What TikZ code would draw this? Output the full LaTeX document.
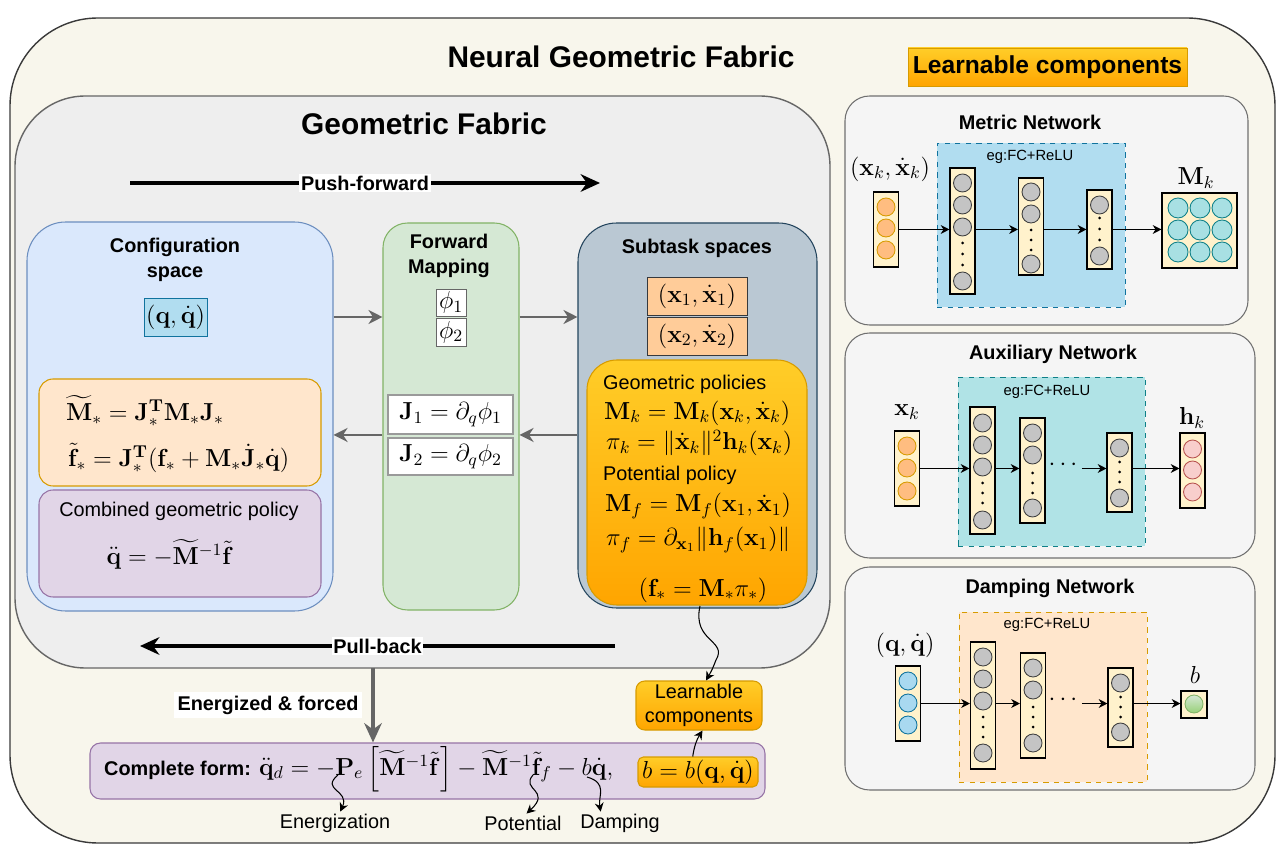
\RequirePackage{fix-cm}
\documentclass[tikz,border=0pt]{standalone}
\usepackage[no-math]{fontspec}
\setmainfont{Liberation Sans}
\usepackage{amsmath}
\usetikzlibrary{arrows.meta}

\definecolor{cream}{HTML}{F8F6EC}
\definecolor{outline}{HTML}{3A3A3A}
\definecolor{gfbg}{HTML}{EEEEEE}
\definecolor{gfline}{HTML}{666666}
\definecolor{panelbg}{HTML}{F5F5F5}
\definecolor{panelline}{HTML}{707070}
\definecolor{cfgfill}{HTML}{DAE8FC}
\definecolor{cfgline}{HTML}{6C8EBF}
\definecolor{qqfill}{HTML}{B1DDF0}
\definecolor{qqline}{HTML}{10739E}
\definecolor{pale}{HTML}{FFE6CC}
\definecolor{paleline}{HTML}{D79B00}
\definecolor{purp}{HTML}{E1D5E7}
\definecolor{purpline}{HTML}{9673A6}
\definecolor{greenfill}{HTML}{D5E8D4}
\definecolor{greenline}{HTML}{82B366}
\definecolor{subfill}{HTML}{BAC8D3}
\definecolor{subline}{HTML}{23445D}
\definecolor{peach}{HTML}{FFCC99}
\definecolor{peachline}{HTML}{36393D}
\definecolor{gold1}{HTML}{FFCD28}
\definecolor{gold2}{HTML}{FFA500}
\definecolor{goldline}{HTML}{D79B00}
\definecolor{jline}{HTML}{9A9A9A}
\definecolor{arrowgrey}{HTML}{666666}
\definecolor{tealfill}{HTML}{B0E3E6}
\definecolor{tealline}{HTML}{0E8088}
\definecolor{layerfill}{HTML}{FFF2CC}
\definecolor{nodegrey}{HTML}{C4C4C4}
\definecolor{nodeorange}{HTML}{FFBD80}
\definecolor{nodeteal}{HTML}{A8E0E3}
\definecolor{nodepink}{HTML}{F8CECC}
\definecolor{nodepinkline}{HTML}{B85450}
\definecolor{nodeblue}{HTML}{A9D9F0}
\definecolor{nodegreen}{HTML}{97D077}

\tikzset{
  boxwh/.style 2 args={minimum width=#1*0.02cm, minimum height=#2*0.02cm, inner sep=0pt},
  title/.style={font=\fontsize{17}{20}\selectfont\bfseries},
  lbl/.style={font=\fontsize{11.3}{14.2}\selectfont\bfseries},
  txt/.style={font=\fontsize{11.3}{13.7}\selectfont, inner sep=1pt},
  eq/.style={font=\fontsize{14}{17}\selectfont, inner sep=1pt},
  egfc/.style={font=\fontsize{8.4}{10}\selectfont},
  garrow/.style={draw=arrowgrey, line width=1.2pt, -{Stealth[length=8pt,width=8pt]}},
  darrow/.style={draw=arrowgrey, line width=1.8pt, -{Stealth[length=11pt,width=10pt]}},
  flow/.style={line width=2.2pt, -{Stealth[length=11pt,width=10pt]}},
  curly/.style={line width=0.6pt, -{Stealth[length=5pt,width=5pt]}},
  netarrow/.style={line width=0.7pt, -{Stealth[length=5pt,width=5pt]}},
  net/.style={draw=panelline, fill=panelbg, rounded corners=14pt, line width=0.6pt},
  layer/.style={draw=black, fill=layerfill, line width=0.6pt, minimum width=0.5cm, minimum height=#1*0.02cm, inner sep=0pt},
  golden/.style={draw=goldline, top color=gold1, bottom color=gold2},
  ngrey/.style={draw=black!75, fill=nodegrey, line width=0.5pt},
  norange/.style={draw=goldline, fill=nodeorange, line width=0.5pt},
  nteal/.style={draw=tealline, fill=nodeteal, line width=0.5pt},
  npink/.style={draw=nodepinkline, fill=nodepink, line width=0.5pt},
  nblue/.style={draw=qqline, fill=nodeblue, line width=0.5pt}
}

\begin{document}
\begin{tikzpicture}[x=0.02cm,y=-0.02cm]
\useasboundingbox (0,0) rectangle (1281,847);

% Frames
\node[boxwh={1265}{825}, draw=outline, line width=0.8pt, fill=cream, rounded corners=50pt] (ngf) at (642.5,430.5) {};
\node[title] (ngft) at (621,57) {Neural Geometric Fabric};
\node[boxwh={815}{572}, draw=gfline, line width=0.8pt, fill=gfbg, rounded corners=40pt] (gf) at (422.5,382) {};
\node[title] (gft) at (424,124) {Geometric Fabric};

% Push-forward and pull-back
\coordinate (pfs) at (130,183);
\coordinate (pfe) at (600,183);
\draw[flow] (pfs) -- node[lbl, fill=white, inner sep=1pt] (pft) {Push-forward} (pfe);
\coordinate (pbs) at (615,646);
\coordinate (pbe) at (140,646);
\draw[flow] (pbs) -- node[lbl, fill=white, inner sep=1pt] (pbt) {Pull-back} (pbe);

% Configuration space
\node[boxwh={306}{389}, draw=cfgline, fill=cfgfill, rounded corners=22pt, line width=0.6pt] (cfg) at (180,416.5) {};
\node[lbl, align=center] (cfgt) at (175,259.5) {Configuration\\space};
\node[boxwh={63}{38}, draw=qqline, fill=qqfill, eq] (qq) at (175.5,317) {$(\mathbf{q},\dot{\mathbf{q}})$};
\node[boxwh={282}{107}, draw=paleline, fill=pale, rounded corners=8pt, line width=0.6pt] (pullb) at (180,432.5) {};
\node[eq, anchor=west] (mtil) at (64,411) {$\widetilde{\mathbf{M}}_* = \mathbf{J}_*^{\mathbf{T}}\mathbf{M}_*\mathbf{J}_*$};
\node[eq, anchor=west] (ftil) at (66,458) {$\tilde{\mathbf{f}}_* = \mathbf{J}_*^{\mathbf{T}}(\mathbf{f}_*+\mathbf{M}_*\dot{\mathbf{J}}_*\dot{\mathbf{q}})$};
\node[boxwh={282}{107}, draw=purpline, fill=purp, rounded corners=8pt, line width=0.6pt] (comb) at (180,543.5) {};
\node[txt] (combt) at (179,511) {Combined geometric policy};
\node[eq] (combeq) at (170,554) {$\ddot{\mathbf{q}} = -\widetilde{\mathbf{M}}^{-1}\tilde{\mathbf{f}}$};

% Forward mapping
\node[boxwh={136}{387}, draw=greenline, fill=greenfill, rounded corners=14pt, line width=0.6pt] (fwd) at (451,416.5) {};
\node[lbl, align=center] (fwdt) at (449,256) {Forward\\Mapping};
\node[boxwh={30}{27}, draw=arrowgrey, fill=white, eq] (phi1) at (451,302.5) {$\phi_1$};
\node[boxwh={30}{28}, draw=arrowgrey, fill=white, eq] (phi2) at (451,332) {$\phi_2$};
\node[boxwh={125}{39}, draw=jline, line width=1.1pt, fill=white, eq] (j1) at (450.5,414.5) {$\mathbf{J}_1 = \partial_q\phi_1$};
\node[boxwh={125}{37}, draw=jline, line width=1.1pt, fill=white, eq] (j2) at (450.5,456.5) {$\mathbf{J}_2 = \partial_q\phi_2$};

% Subtask spaces
\node[boxwh={239}{385}, draw=subline, fill=subfill, rounded corners=22pt, line width=0.6pt] (sub) at (697.5,415.5) {};
\node[lbl] (subt) at (697,248) {Subtask spaces};
\node[boxwh={100}{38}, draw=peachline, fill=peach, eq] (x1) at (697,296) {$(\mathbf{x}_1,\dot{\mathbf{x}}_1)$};
\node[boxwh={100}{38}, draw=peachline, fill=peach, eq] (x2) at (697,336) {$(\mathbf{x}_2,\dot{\mathbf{x}}_2)$};
\node[boxwh={220}{245}, golden, rounded corners=17pt, line width=0.6pt] (pol) at (697,482.5) {};
\node[txt, anchor=west] (geot) at (601,384) {Geometric policies};
\node[eq, anchor=west] (mk) at (602,413) {$\mathbf{M}_k = \mathbf{M}_k(\mathbf{x}_k,\dot{\mathbf{x}}_k)$};
\node[eq, anchor=west] (pik) at (604,443) {$\pi_k = \|\dot{\mathbf{x}}_k\|^2\mathbf{h}_k(\mathbf{x}_k)$};
\node[txt, anchor=west] (pott) at (601,475) {Potential policy};
\node[eq, anchor=west] (mf) at (603,506) {$\mathbf{M}_f = \mathbf{M}_f(\mathbf{x}_1,\dot{\mathbf{x}}_1)$};
\node[eq, anchor=west] (pif) at (604,540) {$\pi_f = \partial_{\mathbf{x}_1}\|\mathbf{h}_f(\mathbf{x}_1)\|$};
\node[eq] (fstar) at (703,590) {$(\mathbf{f}_* = \mathbf{M}_*\pi_*)$};

% Arrows between the spaces
\draw[garrow] (cfg.east |- qq) -- (fwd.west |- qq);
\draw[garrow] (fwd.east |- qq) -- (sub.west |- qq);
\draw[garrow] (sub.west |- j1.south) -- (fwd.east |- j1.south);
\draw[garrow] (fwd.west |- j1.south) -- (cfg.east |- j1.south);

% Complete form
\node[boxwh={675}{56}, draw=purpline, fill=purp, rounded corners=6pt, line width=0.6pt] (full) at (427.5,771) {};
\node[lbl, anchor=west] (fullt) at (98,770) {Complete form:};
\node[eq, anchor=west] (fulleq) at (257,769) {$\ddot{\mathbf{q}}_d = -\mathbf{P}_e\left[\widetilde{\mathbf{M}}^{-1}\tilde{\mathbf{f}}\right] - \widetilde{\mathbf{M}}^{-1}\tilde{\mathbf{f}}_f - b\dot{\mathbf{q}},$};
\node[boxwh={120}{30}, golden, rounded corners=3pt, line width=0.6pt, eq] (bb) at (698,772) {$b = b(\mathbf{q},\dot{\mathbf{q}})$};
\node[boxwh={126}{49}, golden, rounded corners=5pt, line width=0.6pt, txt, align=center] (learn) at (699,705.5) {Learnable\\components};

\coordinate (ef) at (373,668);
\draw[darrow] (ef) -- (ef |- full.north);
\node[lbl, fill=white, inner sep=2pt] (eft) at (268,705) {Energized \& forced};

\coordinate (fsb) at (700,606);
\draw[curly] (fsb) .. controls (692,642) and (728,640) .. (716,660) .. controls (712,670) .. ([xshift=4pt]learn.north);
\draw[curly] ([xshift=-3pt]bb.north) to[bend left=12] ([xshift=2pt]learn.south);

% Term labels
\node[txt] (energ) at (335,823) {Energization};
\node[txt] (pot) at (523,823) {Potential};
\node[txt] (damp) at (620,823) {Damping};
\coordinate (pe) at (338,775);
\coordinate (ff) at (533,775);
\coordinate (bd) at (587,777);
\draw[curly] (pe) .. controls (320,790) and (350,790) .. ([xshift=3pt]energ.north);
\draw[curly] (ff) .. controls (520,790) and (552,790) .. ([xshift=2pt]pot.north);
\draw[curly] (bd) .. controls (608,783) and (598,796) .. ([xshift=-11pt]damp.north);

% Learnable components
\node[boxwh={279}{38}, golden, line width=0.3pt, font=\fontsize{14}{17}\selectfont\bfseries] (lc) at (1047.5,67) {Learnable components};

% Metric network
\node[net, boxwh={403}{229}] (metric) at (1046.5,210.5) {};
\node[lbl] (metrict) at (1030,122) {Metric Network};
\node[boxwh={188}{164}, draw=qqline, fill=qqfill, dashed, line width=0.5pt] (mdash) at (1031,225) {};
\node[egfc] (mfc) at (1030,157) {eg:FC+ReLU};
\node[eq] (minl) at (890,169) {$(\mathbf{x}_k,\dot{\mathbf{x}}_k)$};
\node[eq] (moutl) at (1196,178) {$\mathbf{M}_k$};
\node[layer=75] (min) at (886,229.5) {};
\node[layer=126] (ml1) at (962.5,231) {};
\node[layer=97] (ml2) at (1031,226.5) {};
\node[layer=79] (ml3) at (1099.5,229.5) {};
\node[layer=75, minimum width=1.5cm] (mout) at (1199.5,230.5) {};
\foreach \y in {207,228,250} \draw[norange] (886,\y) circle[radius=9];
\foreach \y in {183,205,227,281} \draw[ngrey] (962.5,\y) circle[radius=9];
\foreach \y in {243,254,265} \fill (962.5,\y) circle[radius=1.5];
\foreach \y in {192,214,264} \draw[ngrey] (1031,\y) circle[radius=9];
\foreach \y in {230,240,250} \fill (1031,\y) circle[radius=1.5];
\foreach \y in {205,256} \draw[ngrey] (1099.5,\y) circle[radius=9];
\foreach \y in {218,229,240} \fill (1099.5,\y) circle[radius=1.5];
\foreach \x in {1178,1200,1222}
  \foreach \y in {208,230,252} \draw[nteal] (\x,\y) circle[radius=10];
\draw[netarrow] (min.east) -- (min.east -| ml1.west);
\draw[netarrow] (min.east -| ml1.east) -- (min.east -| ml2.west);
\draw[netarrow] (min.east -| ml2.east) -- (min.east -| ml3.west);
\draw[netarrow] (min.east -| ml3.east) -- (min.east -| mout.west);

% Auxiliary network
\node[net, boxwh={410}{225}] (aux) at (1050,445.5) {};
\node[lbl] (auxt) at (1053,354) {Auxiliary Network};
\node[boxwh={187}{169}, draw=tealline, fill=tealfill, dashed, line width=0.5pt] (adash) at (1051.5,461.5) {};
\node[egfc] (afc) at (1047,392) {eg:FC+ReLU};
\node[eq] (ainl) at (907,412) {$\mathbf{x}_k$};
\node[eq] (aoutl) at (1192,418) {$\mathbf{h}_k$};
\node[layer=75] (ain) at (907,468.5) {};
\node[layer=127] (al1) at (982.5,470.5) {};
\node[layer=105] (al2) at (1032.5,470.5) {};
\node[layer=79] (al3) at (1119.5,472.5) {};
\node[layer=75] (aout) at (1192.5,470.5) {};
\node[eq, inner sep=0pt] (adots) at (1065,465) {$\cdots$};
\foreach \y in {446,468,491} \draw[norange] (907,\y) circle[radius=9];
\foreach \y in {423,445,467,520} \draw[ngrey] (982.5,\y) circle[radius=9];
\foreach \y in {483,493,503} \fill (982.5,\y) circle[radius=1.5];
\foreach \y in {433,455,508} \draw[ngrey] (1032.5,\y) circle[radius=9];
\foreach \y in {473,483,493} \fill (1032.5,\y) circle[radius=1.5];
\foreach \y in {448,498} \draw[ngrey] (1119.5,\y) circle[radius=9];
\foreach \y in {462,472,482} \fill (1119.5,\y) circle[radius=1.5];
\foreach \y in {449,470,492} \draw[npink] (1192.5,\y) circle[radius=9];
\draw[netarrow] (ain.east) -- (ain.east -| al1.west);
\draw[netarrow] (ain.east -| al1.east) -- (ain.east -| al2.west);
\draw[netarrow] (ain.east -| adots.east) -- (ain.east -| al3.west);
\draw[netarrow] (ain.east -| al3.east) -- (ain.east -| aout.west);

% Damping network
\node[net, boxwh={410}{223}] (dmp) at (1050,678.5) {};
\node[lbl] (dmpt) at (1050,588) {Damping Network};
\node[boxwh={188}{170}, draw=paleline, fill=pale, dashed, line width=0.5pt] (ddash) at (1053,697) {};
\node[egfc] (dfc) at (1047,625) {eg:FC+ReLU};
\node[eq] (dinl) at (905,645) {$(\mathbf{q},\dot{\mathbf{q}})$};
\node[eq] (doutl) at (1195,675) {$b$};
\node[layer=75] (din) at (908,703.5) {};
\node[layer=127] (dl1) at (983,705.5) {};
\node[layer=105] (dl2) at (1033,705.5) {};
\node[layer=79] (dl3) at (1120.5,707.5) {};
\node[layer=27, minimum width=0.52cm] (dout) at (1194,704.5) {};
\node[eq, inner sep=0pt] (ddots) at (1065,700) {$\cdots$};
\foreach \y in {681,703,725} \draw[nblue] (908,\y) circle[radius=9];
\foreach \y in {657,679,701,753} \draw[ngrey] (983,\y) circle[radius=9];
\foreach \y in {717,727,737} \fill (983,\y) circle[radius=1.5];
\foreach \y in {668,690,743} \draw[ngrey] (1033,\y) circle[radius=9];
\foreach \y in {707,717,727} \fill (1033,\y) circle[radius=1.5];
\foreach \y in {683,732} \draw[ngrey] (1120.5,\y) circle[radius=9];
\foreach \y in {697,707,717} \fill (1120.5,\y) circle[radius=1.5];
\draw[draw=greenline, top color=greenfill, bottom color=nodegreen, line width=0.5pt] (1194,704) circle[radius=9];
\draw[netarrow] (din.east) -- (din.east -| dl1.west);
\draw[netarrow] (din.east -| dl1.east) -- (din.east -| dl2.west);
\draw[netarrow] (din.east -| ddots.east) -- (din.east -| dl3.west);
\draw[netarrow] (din.east -| dl3.east) -- (din.east -| dout.west);
\end{tikzpicture}
\end{document}
